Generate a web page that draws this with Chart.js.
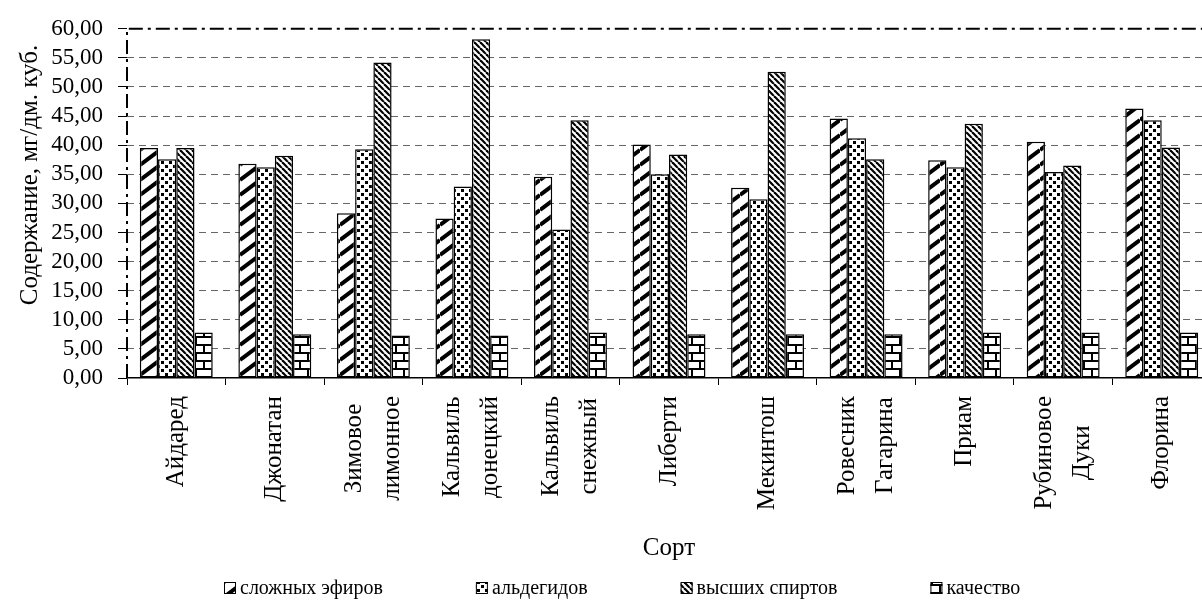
<!DOCTYPE html>
<html>
<head>
<meta charset="utf-8">
<script src="https://cdn.jsdelivr.net/npm/chart.js@4.4.1/dist/chart.umd.min.js"></script>
<style>
  html, body { margin: 0; padding: 0; background: #fff; overflow: hidden; }
  #wrap { width: 1213px; height: 606px; }
</style>
</head>
<body>
<div id="wrap"><canvas id="myCanvas" width="1213" height="606"></canvas></div>
<script>
// сорта яблок (подписи по строкам)
const categories = [
  ['Айдаред'], ['Джонатан'], ['Зимовое', 'лимонное'], ['Кальвиль', 'донецкий'],
  ['Кальвиль', 'снежный'], ['Либерти'], ['Мекинтош'], ['Ровесник', 'Гагарина'],
  ['Приам'], ['Рубиновое', 'Дуки'], ['Флорина']
];
const seriesNames = ['сложных эфиров', 'альдегидов', 'высших спиртов', 'качество'];
const esters    = [39.5, 36.8, 28.3, 27.4, 34.6, 40.1, 32.7, 44.6, 37.4, 40.6, 46.3];
const aldehydes = [37.6, 36.2, 39.3, 32.9, 25.5, 35.0, 30.7, 41.2, 36.2, 35.4, 44.3];
const alcohols  = [39.5, 38.2, 54.2, 58.2, 44.3, 38.4, 52.6, 37.6, 43.7, 36.5, 39.6];
const quality   = [7.8, 7.5, 7.3, 7.3, 7.8, 7.5, 7.5, 7.5, 7.8, 7.8, 7.8];
const yTicks = [0, 5, 10, 15, 20, 25, 30, 35, 40, 45, 50, 55, 60];

const serif = '"Liberation Serif", "Times New Roman", serif';

// штриховки как в Excel
function makePattern(kind) {
  const c = document.createElement('canvas');
  let ctx;
  if (kind === 'up') {
    c.width = 20; c.height = 15;
    ctx = c.getContext('2d');
    ctx.fillStyle = '#fff'; ctx.fillRect(0, 0, 20, 15);
    ctx.strokeStyle = '#000'; ctx.lineWidth = 4;
    for (const dy of [-15, 0, 15]) {
      ctx.beginPath(); ctx.moveTo(0, 15 + dy); ctx.lineTo(20, dy); ctx.stroke();
    }
  } else if (kind === 'dots') {
    c.width = 8; c.height = 8;
    ctx = c.getContext('2d');
    ctx.fillStyle = '#fff'; ctx.fillRect(0, 0, 8, 8);
    ctx.fillStyle = '#000';
    ctx.fillRect(1, 1, 3, 3); ctx.fillRect(5, 5, 3, 3);
  } else if (kind === 'down') {
    c.width = 6; c.height = 6;
    ctx = c.getContext('2d');
    ctx.fillStyle = '#fff'; ctx.fillRect(0, 0, 6, 6);
    ctx.strokeStyle = '#000'; ctx.lineWidth = 2.2;
    for (const dx of [-6, 0, 6]) {
      ctx.beginPath(); ctx.moveTo(dx, 0); ctx.lineTo(dx + 6, 6); ctx.stroke();
    }
  } else {
    c.width = 16; c.height = 16;
    ctx = c.getContext('2d');
    ctx.fillStyle = '#fff'; ctx.fillRect(0, 0, 16, 16);
    ctx.strokeStyle = '#000'; ctx.lineWidth = 2;
    ctx.beginPath();
    ctx.moveTo(0, 1); ctx.lineTo(16, 1);
    ctx.moveTo(0, 9); ctx.lineTo(16, 9);
    ctx.moveTo(4, 1); ctx.lineTo(4, 9);
    ctx.moveTo(12, 9); ctx.lineTo(12, 17);
    ctx.stroke();
  }
  return ctx.createPattern(c, 'repeat');
}

const patterns = [makePattern('up'), makePattern('dots'), makePattern('down'), makePattern('brick')];
const values = [esters, aldehydes, alcohols, quality];

const datasets = values.map((v, i) => ({
  label: seriesNames[i],
  data: v,
  backgroundColor: patterns[i],
  borderColor: '#000',
  borderWidth: 1.5,
  borderSkipped: false,
  categoryPercentage: 0.74,
  barPercentage: 1.0
}));

// рамка области построения (штрих-пунктир)
const plotBorder = {
  id: 'plotBorder',
  afterDraw(chart) {
    const { ctx, chartArea } = chart;
    ctx.save();
    ctx.strokeStyle = '#000';
    ctx.lineWidth = 2;
    ctx.setLineDash([14, 5, 3, 5]);
    ctx.beginPath();
    ctx.moveTo(chartArea.left, chartArea.bottom);
    ctx.lineTo(chartArea.left, chartArea.top);
    ctx.lineTo(chartArea.right, chartArea.top);
    ctx.stroke();
    ctx.restore();
  }
};

// подписи категорий, заголовки осей и легенда
const textStuff = {
  id: 'textStuff',
  afterDraw(chart) {
    const { ctx, chartArea } = chart;
    const x = chart.scales.x;
    ctx.save();
    ctx.fillStyle = '#000';
    ctx.textAlign = 'center';
    ctx.textBaseline = 'middle';

    ctx.font = '25px ' + serif;
    categories.forEach((lines, i) => {
      const cx = x.getPixelForValue(i);
      const w = Math.max(...lines.map(l => ctx.measureText(l).width));
      const cy = chartArea.bottom + 18 + w / 2;
      lines.forEach((line, j) => {
        const lx = cx + (j - (lines.length - 1) / 2) * 38;
        ctx.save();
        ctx.translate(lx, cy);
        ctx.rotate(-Math.PI / 2);
        ctx.fillText(line, 0, 0);
        ctx.restore();
      });
    });

    // Сорт
    ctx.fillText('Сорт', (chartArea.left + chartArea.right) / 2, 548);

    // ось Y
    ctx.save();
    ctx.translate(30, 175);
    ctx.rotate(-Math.PI / 2);
    ctx.fillText('Содержание, мг/дм. куб.', 0, 0);
    ctx.restore();

    // легенда
    ctx.font = '20px ' + serif;
    ctx.textAlign = 'left';
    let lx = 224;
    const ly = 588;
    seriesNames.forEach((name, i) => {
      ctx.fillStyle = patterns[i];
      ctx.fillRect(lx, ly - 6, 12, 12);
      ctx.strokeStyle = '#000';
      ctx.lineWidth = 1;
      ctx.strokeRect(lx + 0.5, ly - 5.5, 11, 11);
      ctx.fillStyle = '#000';
      ctx.fillText(name, lx + 16, ly + 1);
      lx += 16 + ctx.measureText(name).width + 93;
    });
    ctx.restore();
  }
};

new Chart(document.getElementById('myCanvas'), {
  type: 'bar',
  data: { labels: categories.map(l => l.join(' ')), datasets: datasets },
  options: {
    responsive: false,
    animation: false,
    devicePixelRatio: 1,
    layout: { padding: { top: 25, right: 2, left: 0, bottom: 0 } },
    plugins: { legend: { display: false }, tooltip: { enabled: false } },
    scales: {
      x: {
        afterFit(scale) { scale.height = 228; },
        ticks: { display: false },
        grid: {
          offset: true,
          drawOnChartArea: false,
          drawTicks: true,
          tickLength: 7,
          tickColor: '#000',
          color: '#000'
        },
        border: { display: true, color: '#000', width: 1.5 }
      },
      y: {
        min: 0,
        max: 60,
        afterFit(scale) { scale.width = 127; },
        afterBuildTicks(scale) { scale.ticks = yTicks.map(v => ({ value: v })); },
        ticks: {
          autoSkip: false,
          stepSize: 5,
          padding: 15,
          color: '#000',
          font: { family: serif, size: 23 },
          callback: v => v.toFixed(2).replace('.', ',')
        },
        grid: {
          color: ctx => (ctx.tick && (ctx.tick.value === 0 || ctx.tick.value === 60)) ? 'rgba(0,0,0,0)' : '#666',
          lineWidth: 1,
          tickLength: 9,
          tickColor: '#000',
          tickWidth: 1,
          tickBorderDash: []
        },
        border: { display: false, dash: [7, 5] }
      }
    }
  },
  plugins: [plotBorder, textStuff]
});
</script>
</body>
</html>
